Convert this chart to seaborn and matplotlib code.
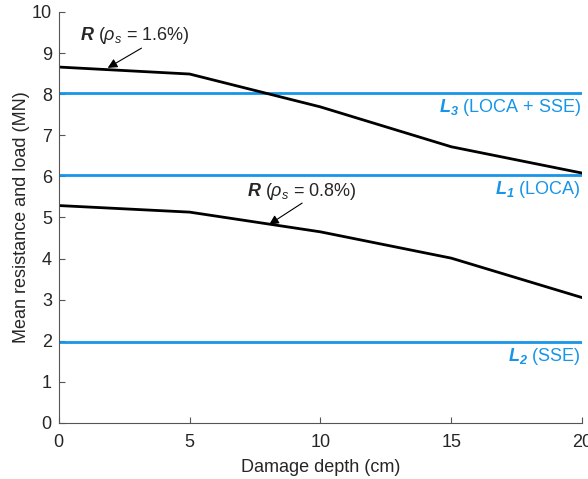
import numpy as np
import pandas as pd
import seaborn as sns
import matplotlib.pyplot as plt

# damage depth (cm) and mean resistance (MN)
depth = [0, 5, 10, 15, 20]
r_16 = [8.66, 8.49, 7.69, 6.72, 6.08]
r_08 = [5.29, 5.13, 4.65, 4.01, 3.05]

# load levels (MN)
load_names = ['L1', 'L2', 'L3']
load_values = [6.03, 1.98, 8.02]
load_labels = [r'$\mathbf{L_1}$ (LOCA)', r'$\mathbf{L_2}$ (SSE)', r'$\mathbf{L_3}$ (LOCA + SSE)']

sns.set_style('ticks')
plt.rcParams['font.family'] = ['Liberation Sans', 'DejaVu Sans']
plt.rcParams['mathtext.fontset'] = 'custom'
plt.rcParams['mathtext.rm'] = 'Liberation Sans'
plt.rcParams['mathtext.it'] = 'Liberation Sans:italic'
plt.rcParams['mathtext.bf'] = 'Liberation Sans:italic:bold'

blue = '#1795e8'
fs = 13
df = pd.DataFrame({'depth': depth * 2,
                   'R': r_16 + r_08,
                   'rho': ['1.6'] * 5 + ['0.8'] * 5})

fig = plt.figure(figsize=(5.88, 4.79), dpi=100)
ax = fig.add_axes([0.100, 0.117, 0.890, 0.858])

for val in load_values:
    ax.axhline(val, color=blue, lw=2)

sns.lineplot(data=df, x='depth', y='R', units='rho', estimator=None,
             color='black', lw=2, ax=ax, legend=False)

# load labels at right edge
for val, lab in zip(load_values, load_labels):
    ax.text(19.95, val - 0.1, lab, color=blue, fontsize=fs, ha='right', va='top')

# resistance annotations
arrow = dict(arrowstyle='-|>', color='black', lw=0.8, mutation_scale=14,
             shrinkA=0, shrinkB=0)
ax.text(2.9, 9.42, r'$\mathbf{R}$ ($\rho_s$ = 1.6%)', fontsize=fs, ha='center', va='center')
ax.annotate('', xy=(1.87, 8.64), xytext=(3.16, 9.12), arrowprops=arrow)
ax.text(9.27, 5.62, r'$\mathbf{R}$ ($\rho_s$ = 0.8%)', fontsize=fs, ha='center', va='center')
ax.annotate('', xy=(8.04, 4.83), xytext=(9.3, 5.35), arrowprops=arrow)

ax.set_xlim(0, 20)
ax.set_ylim(0, 10)
ax.set_xticks([0, 5, 10, 15, 20])
ax.set_yticks(range(0, 11))
ax.tick_params(direction='in', labelsize=fs, colors='#555555', labelcolor='#262626', length=4)
ax.tick_params(axis='x', pad=8)
ax.tick_params(axis='y', pad=5)
ax.set_xlabel('Damage depth (cm)', fontsize=fs, color='#262626', labelpad=6)
ax.set_ylabel('Mean resistance and load (MN)', fontsize=fs, color='#262626', labelpad=1)
sns.despine(ax=ax)
for sp in ax.spines.values():
    sp.set_color('#555555')
    sp.set_linewidth(0.8)

fig.savefig('out.png', dpi=100)
